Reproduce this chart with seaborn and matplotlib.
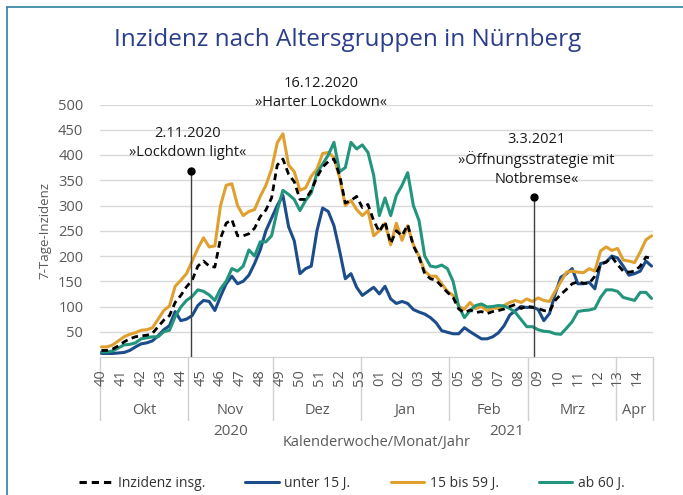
import numpy as np
import pandas as pd
import matplotlib
matplotlib.use("Agg")
import matplotlib.pyplot as plt
from matplotlib.lines import Line2D
import seaborn as sns

# 7-Tage-Inzidenz, read every second day from 1.10.2020 to 13.4.2021
dates = pd.date_range("2020-10-01", "2021-04-13", freq="2D")

total = [13, 13, 16, 22, 30, 36, 40, 42, 43, 47,
         60, 73, 82, 108, 122, 139, 152, 180, 190, 180,
         178, 235, 265, 272, 240, 240, 244, 255, 278, 291,
         315, 380, 392, 362, 347, 312, 312, 330, 356, 376,
         387, 392, 360, 305, 310, 318, 296, 302, 270, 248,
         268, 225, 250, 240, 262, 220, 198, 165, 155, 152,
         140, 128, 118, 95, 88, 93, 88, 90, 86, 90,
         92, 95, 100, 104, 96, 101, 98, 96, 92, 90,
         112, 124, 134, 145, 149, 146, 146, 160, 183, 188,
         198, 183, 170, 168, 170, 180, 198, 195]

under15 = [7, 7, 7, 8, 9, 13, 20, 26, 28, 32,
           42, 54, 62, 90, 72, 75, 82, 102, 112, 110,
           92, 120, 145, 160, 145, 150, 162, 185, 212, 250,
           275, 300, 320, 258, 230, 165, 175, 180, 250, 295,
           288, 260, 210, 155, 165, 138, 122, 130, 138, 125,
           140, 115, 106, 110, 106, 94, 89, 85, 78, 68,
           52, 49, 46, 46, 58, 50, 43, 36, 36, 40,
           48, 62, 83, 92, 100, 98, 99, 94, 72, 86,
           125, 158, 165, 175, 145, 145, 148, 135, 185, 188,
           200, 196, 180, 162, 165, 170, 190, 180]

age15_59 = [20, 20, 24, 32, 40, 45, 48, 53, 54, 58,
            75, 92, 101, 140, 152, 165, 190, 215, 236, 218,
            220, 300, 340, 343, 300, 280, 288, 292, 318, 340,
            372, 424, 442, 380, 367, 330, 335, 358, 372, 403,
            405, 395, 355, 300, 310, 292, 280, 290, 240, 250,
            265, 222, 265, 231, 260, 222, 200, 170, 160, 160,
            145, 130, 122, 100, 95, 108, 96, 100, 92, 97,
            96, 102, 108, 112, 108, 115, 110, 117, 112, 110,
            130, 149, 168, 170, 168, 167, 175, 170, 210, 218,
            211, 215, 192, 190, 187, 208, 232, 240]

over60 = [10, 10, 12, 18, 24, 25, 28, 36, 38, 40,
          40, 50, 53, 80, 99, 112, 120, 133, 130, 123,
          112, 135, 150, 175, 170, 180, 212, 200, 228, 228,
          240, 290, 330, 322, 312, 290, 310, 325, 364, 382,
          400, 425, 367, 375, 425, 412, 420, 405, 360, 280,
          315, 280, 320, 340, 365, 300, 270, 200, 180, 178,
          182, 175, 150, 100, 78, 92, 102, 105, 99, 100,
          102, 101, 96, 88, 74, 60, 60, 54, 51, 50,
          46, 45, 57, 70, 90, 92, 93, 96, 118, 133,
          133, 130, 118, 115, 112, 128, 128, 116]

series_names = ["Inzidenz insg.", "unter 15 J.", "15 bis 59 J.", "ab 60 J."]
series_colors = ["black", "#1c4d8a", "#e0a030", "#23957d"]

month_names = {10: "Okt", 11: "Nov", 12: "Dez", 1: "Jan", 2: "Feb", 3: "Mrz", 4: "Apr"}

events = [("2020-11-02", "2.11.2020\n»Lockdown light«", 369),
          ("2020-12-16", "16.12.2020\n»Harter Lockdown«", None),
          ("2021-03-03", "3.3.2021\n»Öffnungsstrategie mit\nNotbremse«", 316)]

start = dates[0]
all_days = pd.date_range(start, dates[-1], freq="D")
n_days = len(all_days)


def day_pos(d):
    return (pd.Timestamp(d) - start).days


df = pd.DataFrame({"x": [day_pos(d) + 0.5 for d in dates],
                   series_names[0]: total,
                   series_names[1]: under15,
                   series_names[2]: age15_59,
                   series_names[3]: over60})

sns.set_style("white")
plt.rcParams["font.family"] = ["Open Sans", "DejaVu Sans"]
grey = "#595959"

fig = plt.figure(figsize=(6.83, 4.95), dpi=100)
ax = fig.add_axes([100 / 683, 1 - 357 / 495, 553 / 683, 252.5 / 495])

# colored lines first, total on top
for name, col, z in zip(series_names[1:], series_colors[1:], [3, 4, 5]):
    sns.lineplot(data=df, x="x", y=name, ax=ax, color=col, lw=2.2, zorder=z)
sns.lineplot(data=df, x="x", y=series_names[0], ax=ax, color="black", lw=2.0,
             zorder=6, dashes=False)
ax.lines[-1].set_dashes([2.4, 1.6])

ax.set_xlim(0, n_days)
ax.set_ylim(0, 500)
ax.set_yticks(range(50, 501, 50))
ax.tick_params(axis="y", length=0, pad=12, labelsize=10.5, labelcolor=grey)
ax.grid(axis="y", color="#d9d9d9", lw=1)
ax.set_xticks([])
ax.set_xlabel("")
ax.set_ylabel("7-Tage-Inzidenz", fontsize=9.5, color=grey, labelpad=5)
for s in ["left", "right", "top"]:
    ax.spines[s].set_visible(False)
ax.spines["bottom"].set_color("#d0d0d0")

# multi-level category axis: week / month / year
xt = ax.get_xaxis_transform()
days_df = pd.DataFrame({"date": all_days, "pos": np.arange(n_days)})
iso = days_df["date"].dt.isocalendar()
for _, r in days_df[iso["day"] == 4].iterrows():
    wk = r["date"].isocalendar()[1]
    ax.text(r["pos"] + 0.5, -0.083, f"{wk:02d}", transform=xt, rotation=90,
            ha="center", va="center", fontsize=10.5, color=grey)

months = days_df.groupby([days_df["date"].dt.year, days_df["date"].dt.month])["pos"]
bounds = [0]
for (yr, mo), p in months:
    ax.text((p.min() + p.max() + 1) / 2, -0.21, month_names[mo], transform=xt,
            ha="center", va="center", fontsize=10.5, color=grey)
    bounds.append(p.max() + 1)
for b in bounds:
    ax.plot([b, b], [0, -0.25], transform=xt, color="#d0d0d0", lw=1, clip_on=False)

for yr, p in days_df.groupby(days_df["date"].dt.year)["pos"]:
    ax.text((p.min() + p.max() + 1) / 2, -0.297, str(yr), transform=xt,
            ha="center", va="center", fontsize=11, color=grey)
ax.text(0.5, -0.34, "Kalenderwoche/Monat/Jahr", transform=ax.transAxes,
        ha="center", va="center", fontsize=10.5, color=grey)

# events
text_shift = [-1.0, 2.0, 1.0]
text_y = [424, 523, 391]
for (d, label, top), dx, ty in zip(events, text_shift, text_y):
    x = day_pos(d)
    if top is not None:
        ax.plot([x, x], [0, top], color="#404040", lw=1, zorder=7)
        ax.plot([x], [top], "o", color="black", ms=5, zorder=8)
    ax.text(x + dx, ty, label, ha="center", va="center", fontsize=10.5,
            color="#1a1a1a", linespacing=1.3, clip_on=False, zorder=8)

fig.text(0.509, 0.919, "Inzidenz nach Altersgruppen in Nürnberg", ha="center",
         va="center", fontsize=17.5, color="#2b3e8c")

handles = [Line2D([], [], color=c, lw=2.2) for c in series_colors]
handles[0].set_dashes([2.4, 1.6])
fig.legend(handles, series_names, loc="center", bbox_to_anchor=(0.515, 0.024),
           ncol=4, frameon=False, fontsize=10, handlelength=2.4,
           handletextpad=0.4, columnspacing=2.9, labelcolor="#333333")

# frame of the info box
frame_col = "#2f7fa3"
fig.add_artist(Line2D([6.5 / 683, 6.5 / 683], [0, 1 - 6.5 / 495],
                      transform=fig.transFigure, color=frame_col, lw=1.2))
fig.add_artist(Line2D([6.5 / 683, 1], [1 - 6.5 / 495, 1 - 6.5 / 495],
                      transform=fig.transFigure, color=frame_col, lw=1.2))

fig.savefig("out.png", dpi=100)
